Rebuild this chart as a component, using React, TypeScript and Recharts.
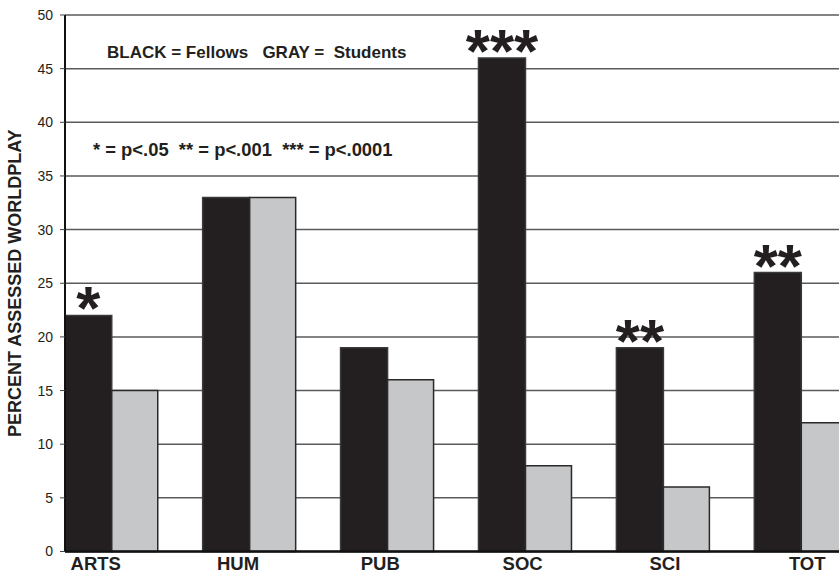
import { BarChart, Bar, XAxis, YAxis, CartesianGrid, LabelList } from "recharts";

const categories = ["ARTS", "HUM", "PUB", "SOC", "SCI", "TOT"];
const fellows = [22, 33, 19, 46, 19, 26];
const students = [15, 33, 16, 8, 6, 12];
const significance = ["*", "", "", "***", "**", "**"];
const yTicks = [0, 5, 10, 15, 20, 25, 30, 35, 40, 45, 50];

const FONT = '"Liberation Sans", Arial, Helvetica, sans-serif';
const BLACK = "#231f20";
const GRAY = "#c6c7c9";

const data = categories.map((name, i) => ({
  pos: i,
  name,
  fellows: fellows[i],
  students: students[i],
}));

function CategoryTick(props: any) {
  const { x, y, payload, index } = props;
  // labels drift slightly right of the bar groups in the original
  const dx = -16 + 4.4 * index;
  return (
    <text x={x + dx} y={y} dy={18} textAnchor="middle" fontFamily={FONT} fontWeight="bold" fontSize={18.5} fill="#231f20">
      {categories[payload.value]}
    </text>
  );
}

function StarLabel(props: any) {
  const { x, y, width, index } = props;
  const s = significance[index];
  if (!s) return null;
  return (
    <text x={x + width / 2} y={y + 14} textAnchor="middle" fontFamily={FONT} fontWeight="bold" fontSize={62} fill="#231f20">
      {s}
    </text>
  );
}

export default function App() {
  return (
    <div style={{ position: "absolute", left: 0, top: 0, width: 839, height: 573, overflow: "hidden", background: "#fff" }}>
      <BarChart width={880} height={573} data={data} margin={{ top: 15, right: 0, bottom: 0, left: 0 }} barGap={0}>
        <CartesianGrid vertical={false} stroke="#5a5a5a" strokeWidth={1.5} />
        <XAxis
          dataKey="pos"
          type="number"
          domain={[-0.3387, 5.571]}
          ticks={[0, 1, 2, 3, 4, 5]}
          interval={0}
          allowDataOverflow
          height={21.5}
          tickSize={0}
          tickMargin={0}
          tickLine={false}
          axisLine={{ stroke: "#111", strokeWidth: 2.5 }}
          tick={<CategoryTick />}
        />
        <YAxis
          type="number"
          domain={[0, 50]}
          ticks={yTicks}
          interval={0}
          width={65}
          tickSize={5}
          tickMargin={7}
          axisLine={{ stroke: "#111", strokeWidth: 2 }}
          tickLine={{ stroke: "#444" }}
          tick={{ fontFamily: FONT, fontSize: 14, fill: "#231f20" }}
          label={{
            value: "PERCENT ASSESSED WORLDPLAY",
            angle: -90,
            position: "insideLeft",
            offset: 0,
            style: { fontFamily: FONT, fontWeight: "bold", fontSize: 18, fill: "#231f20", textAnchor: "middle" },
            dx: 15,
            dy: 0,
          }}
        />
        <Bar dataKey="fellows" barSize={47} fill={BLACK} stroke="#3a3a3a" strokeWidth={1.5} isAnimationActive={false}>
          <LabelList dataKey="fellows" content={<StarLabel />} />
        </Bar>
        <Bar dataKey="students" barSize={46} fill={GRAY} stroke="#2a2a2a" strokeWidth={1.5} isAnimationActive={false} />
      </BarChart>
      <svg width={839} height={573} style={{ position: "absolute", left: 0, top: 0, pointerEvents: "none" }}>
        <text x={107} y={58} fontFamily={FONT} fontWeight="bold" fontSize={17} fill="#231f20" style={{ whiteSpace: "pre" }}>
          {"BLACK = Fellows   GRAY =  Students"}
        </text>
        <text x={93} y={156} fontFamily={FONT} fontWeight="bold" fontSize={18.4} fill="#231f20" style={{ whiteSpace: "pre" }}>
          {"* = p<.05  ** = p<.001  *** = p<.0001"}
        </text>
      </svg>
    </div>
  );
}
